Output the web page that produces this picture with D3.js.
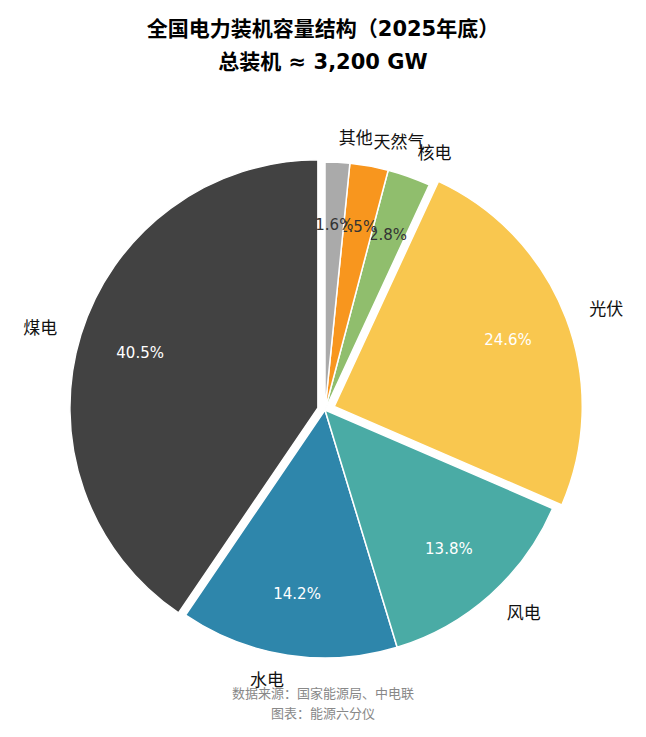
<!DOCTYPE html>
<html><head><meta charset="utf-8">
<script src="https://cdn.jsdelivr.net/npm/d3@7"></script>
<style>body{margin:0;background:#fff}text{font-family:"DejaVu Sans","Noto Sans CJK SC",sans-serif}</style>
</head><body><svg id="c" width="646" height="737"></svg>
<script>
const categories=["煤电","水电","风电","光伏","核电","天然气","其他"];
const values=[40.5,14.2,13.8,24.6,2.8,2.5,1.6];
const colors=["#424242","#2e86ab","#4aaba5","#f9c74f","#90be6d","#f8961e","#aaaaaa"];
const explode=[0.03,0,0,0.04,0,0,0];
const pctColors=["#fff","#fff","#fff","#fff","#333","#333","#333"];

const svg=d3.select("#c");
const cx=325,cy=410,r=248;
svg.append("text").attr("x",323).attr("y",36).attr("text-anchor","middle").attr("font-size",21).attr("font-weight","bold").text("全国电力装机容量结构（2025年底）");
svg.append("text").attr("x",323).attr("y",69).attr("text-anchor","middle").attr("font-size",21).attr("font-weight","bold").text("总装机 ≈ 3,200 GW");

const pie=d3.pie().sort(null).startAngle(0).endAngle(-2*Math.PI);
const arcs=pie(values);
const arc=d3.arc().innerRadius(0).outerRadius(r);
const g=svg.append("g").attr("transform",`translate(${cx},${cy})`);
arcs.forEach((a,i)=>{
  const mid=(a.startAngle+a.endAngle)/2;
  const dx=Math.sin(mid)*explode[i]*r, dy=-Math.cos(mid)*explode[i]*r;
  const sg=g.append("g").attr("transform",`translate(${dx},${dy})`);
  sg.append("path").attr("d",arc({startAngle:a.endAngle,endAngle:a.startAngle})).attr("fill",colors[i]).attr("stroke","#fff").attr("stroke-width",1.5);
  const lx=Math.sin(mid)*1.1*r, ly=-Math.cos(mid)*1.1*r;
  sg.append("text").attr("x",lx).attr("y",ly).attr("dy","0.35em")
    .attr("text-anchor",lx>5?"start":(lx<-5?"end":"middle")).attr("font-size",17).attr("fill","#111").text(categories[i]);
  const px=Math.sin(mid)*0.75*r, py=-Math.cos(mid)*0.75*r;
  sg.append("text").attr("x",px).attr("y",py).attr("dy","0.35em").attr("text-anchor","middle")
    .attr("font-size",15).attr("fill",pctColors[i]).text(values[i].toFixed(1)+"%");
});
svg.append("text").attr("x",323).attr("y",698).attr("text-anchor","middle").attr("font-size",13).attr("fill","#888").text("数据来源：国家能源局、中电联");
svg.append("text").attr("x",323).attr("y",718).attr("text-anchor","middle").attr("font-size",13).attr("fill","#888").text("图表：能源六分仪");
</script></body></html>
